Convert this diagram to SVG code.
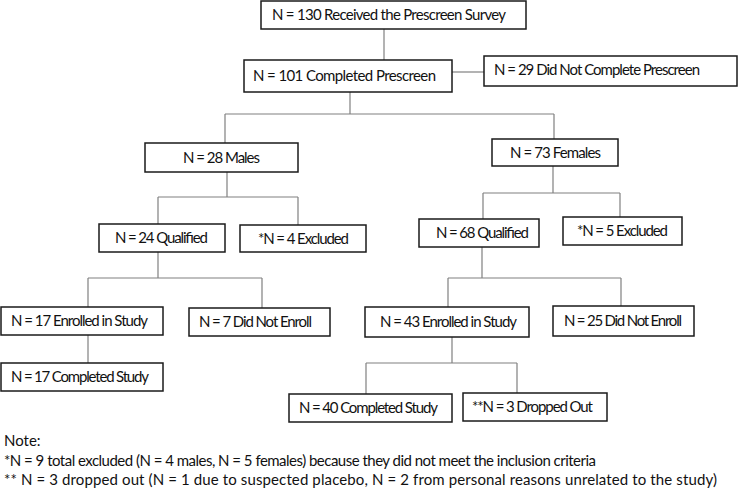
<svg xmlns="http://www.w3.org/2000/svg" width="738" height="488" viewBox="0 0 738 488">
<style>
.box{fill:#fff;stroke:#1a1a1a;stroke-width:1.5}
.t{font-family:Lato,"Open Sans","Liberation Sans",sans-serif;font-size:15px;fill:#111}
.c{fill:none;stroke:#808080;stroke-width:1.2}
</style>
<rect width="738" height="488" fill="#fff"/>
<g id="connectors" class="c">
<path d="M384 29V60"/>
<path d="M452 72H484"/>
<path d="M350 92V114M225 114H554M225 114V143M554 114V139"/>
<path d="M227 172V197M158 197H298M158 197V224M298 197V225"/>
<path d="M553 166V193M483 193H620M483 193V219M620 193V217"/>
<path d="M158 252V278M88 278H262M88 278V307M262 278V308"/>
<path d="M482 247V278M448 278H621M448 278V307M621 278V306"/>
<path d="M88 335V363"/>
<path d="M452 337V363M366 363H517M366 363V394M517 363V393"/>
</g>
<g id="n130"><rect class="box" x="261" y="1" width="265" height="28"/><text class="t" x="272" y="20" textLength="234">N = 130 Received the Prescreen Survey</text></g>
<g id="n101"><rect class="box" x="244" y="60" width="208" height="32"/><text class="t" x="253" y="81" textLength="183">N = 101 Completed Prescreen</text></g>
<g id="n29"><rect class="box" x="484" y="56" width="253" height="30"/><text class="t" x="494" y="75" textLength="206">N = 29 Did Not Complete Prescreen</text></g>
<g id="males"><rect class="box" x="145" y="143" width="153" height="29"/><text class="t" x="183" y="163" textLength="77">N = 28 Males</text></g>
<g id="females"><rect class="box" x="492" y="139" width="126" height="27"/><text class="t" x="510" y="158" textLength="91">N = 73 Females</text></g>
<g id="q24"><rect class="box" x="99" y="224" width="126" height="28"/><text class="t" x="115" y="243" textLength="93">N = 24 Qualified</text></g>
<g id="ex4"><rect class="box" x="240" y="225" width="126" height="27"/><text class="t" x="258" y="244" textLength="91">*N = 4 Excluded</text></g>
<g id="q68"><rect class="box" x="419" y="219" width="120" height="28"/><text class="t" x="436" y="238" textLength="93">N = 68 Qualified</text></g>
<g id="ex5"><rect class="box" x="563" y="217" width="119" height="28"/><text class="t" x="577" y="236" textLength="91">*N = 5 Excluded</text></g>
<g id="e17"><rect class="box" x="1" y="307" width="162" height="28"/><text class="t" x="11" y="326" textLength="137">N = 17 Enrolled in Study</text></g>
<g id="ne7"><rect class="box" x="189" y="308" width="141" height="28"/><text class="t" x="199" y="327" textLength="113">N = 7 Did Not Enroll</text></g>
<g id="e43"><rect class="box" x="365" y="307" width="164" height="30"/><text class="t" x="380" y="327" textLength="137">N = 43 Enrolled in Study</text></g>
<g id="ne25"><rect class="box" x="553" y="306" width="141" height="30"/><text class="t" x="564" y="326" textLength="118">N = 25 Did Not Enroll</text></g>
<g id="c17"><rect class="box" x="1" y="363" width="162" height="28"/><text class="t" x="11" y="382" textLength="138">N = 17 Completed Study</text></g>
<g id="c40"><rect class="box" x="289" y="394" width="163" height="28"/><text class="t" x="299" y="413" textLength="139">N = 40 Completed Study</text></g>
<g id="drop"><rect class="box" x="463" y="393" width="144" height="28"/><text class="t" x="472" y="412" textLength="121">**N = 3 Dropped Out</text></g>
<g id="notes">
<text class="t" x="4" y="446">Note:</text>
<text class="t" x="4" y="466" textLength="592">*N = 9 total excluded (N = 4 males, N = 5 females) because they did not meet the inclusion criteria</text>
<text class="t" x="4" y="485" textLength="713">** N = 3 dropped out (N = 1 due to suspected placebo, N = 2 from personal reasons unrelated to the study)</text>
</g>
</svg>
